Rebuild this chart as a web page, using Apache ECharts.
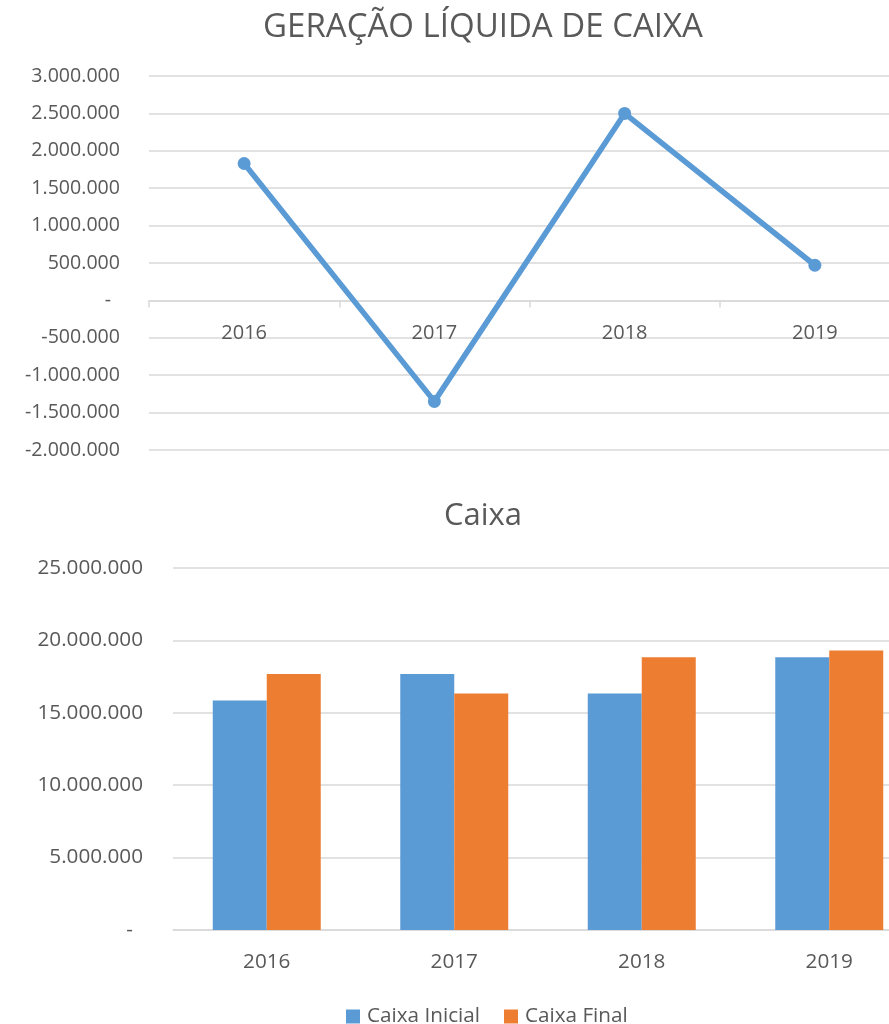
<!DOCTYPE html>
<html>
<head>
<meta charset="utf-8">
<script src="https://cdn.jsdelivr.net/npm/echarts@6/dist/echarts.min.js"></script>
<style>
  html, body { margin: 0; padding: 0; background: #fff; overflow: hidden; }
  /* the drawing is wider than the window; its right edge is cut off */
  #chart { width: 966px; height: 1024px; }
</style>
</head>
<body>
<div id="chart"></div>
<script>
// Years shared by both panels
var anos = ['2016', '2017', '2018', '2019'];
// Net cash generation per year
var geracaoLiquida = [1830000, -1350000, 2500000, 470000];
// Opening and closing cash balances per year
var caixaInicial = [15850000, 17680000, 16330000, 18830000];
var caixaFinal = [17680000, 16330000, 18830000, 19300000];

var FONT = '"Open Sans", sans-serif';
var TEXT = '#595959';
var GRID = '#D9D9D9';
var BLUE = '#5B9BD5';
var ORANGE = '#ED7D31';

// Brazilian-style thousands separator; zero shown as a dash
function fmt(v) {
  if (v === 0) return '{z|-}';
  var neg = v < 0;
  var s = String(Math.abs(Math.round(v))).replace(/\B(?=(\d{3})+(?!\d))/g, '.');
  return (neg ? '-' : '') + s;
}

var chart = echarts.init(document.getElementById('chart'), null, { renderer: 'canvas' });

// top panel geometry: the category axis sits on the zero line
var topGrid = { left: 149, top: 76, right: 56, height: 374 };
var topMin = -2000000, topMax = 3000000;
var zeroOffset = -topGrid.height * (0 - topMin) / (topMax - topMin);

chart.setOption({
  backgroundColor: '#fff',
  animation: false,
  textStyle: { fontFamily: FONT },
  title: [
    {
      text: 'GERAÇÃO LÍQUIDA DE CAIXA',
      left: 478, top: 6, textAlign: 'center',
      textStyle: { fontFamily: FONT, fontSize: 33, fontWeight: 'normal', color: TEXT }
    },
    {
      text: 'Caixa',
      left: 478, top: 496, textAlign: 'center',
      textStyle: { fontFamily: FONT, fontSize: 31, fontWeight: 'normal', color: TEXT }
    }
  ],
  legend: {
    data: ['Caixa Inicial', 'Caixa Final'],
    left: 341, top: 1001,
    icon: 'rect', itemWidth: 14, itemHeight: 14, itemGap: 24,
    textStyle: { fontFamily: FONT, fontSize: 20.7, color: TEXT, padding: [0, 0, 0, 2] }
  },
  grid: [
    topGrid,
    { left: 173, top: 568, right: 43, height: 362 }
  ],
  xAxis: [
    {
      type: 'category', gridIndex: 0, data: anos, boundaryGap: true,
      position: 'bottom', offset: zeroOffset,
      axisLine: { onZero: false, lineStyle: { color: GRID, width: 1.5 } },
      axisTick: { show: true, length: 7, lineStyle: { color: GRID, width: 1.5 } },
      axisLabel: { fontFamily: FONT, fontSize: 20, color: TEXT, margin: 23 },
      splitLine: { show: false }
    },
    {
      type: 'category', gridIndex: 1, data: anos, boundaryGap: true,
      axisLine: { lineStyle: { color: GRID, width: 1.5 } },
      axisTick: { show: false },
      axisLabel: { fontFamily: FONT, fontSize: 20.7, color: TEXT, margin: 22 },
      splitLine: { show: false }
    }
  ],
  yAxis: [
    {
      type: 'value', gridIndex: 0, min: topMin, max: topMax, interval: 500000,
      axisLine: { show: false }, axisTick: { show: false },
      splitLine: { lineStyle: { color: GRID, width: 1.5 } },
      axisLabel: {
        fontFamily: FONT, fontSize: 19.6, color: TEXT, margin: 29,
        formatter: fmt,
        rich: { z: { fontFamily: FONT, fontSize: 19.6, color: TEXT, padding: [0, 9, 0, 0] } }
      }
    },
    {
      type: 'value', gridIndex: 1, min: 0, max: 25000000, interval: 5000000,
      axisLine: { show: false }, axisTick: { show: false },
      splitLine: { lineStyle: { color: GRID, width: 1.5 } },
      axisLabel: {
        fontFamily: FONT, fontSize: 20.7, color: TEXT, margin: 30,
        formatter: fmt,
        rich: { z: { fontFamily: FONT, fontSize: 20.7, color: TEXT, padding: [0, 10, 0, 0] } }
      }
    }
  ],
  series: [
    {
      name: 'Geração Líquida', type: 'line', xAxisIndex: 0, yAxisIndex: 0,
      data: geracaoLiquida,
      symbol: 'circle', symbolSize: 13,
      lineStyle: { color: BLUE, width: 5.5 },
      itemStyle: { color: BLUE }
    },
    {
      name: 'Caixa Inicial', type: 'bar', xAxisIndex: 1, yAxisIndex: 1,
      data: caixaInicial, barWidth: 54, barGap: '0%',
      itemStyle: { color: BLUE }
    },
    {
      name: 'Caixa Final', type: 'bar', xAxisIndex: 1, yAxisIndex: 1,
      data: caixaFinal, barWidth: 54, barGap: '0%',
      itemStyle: { color: ORANGE }
    }
  ]
});
</script>
</body>
</html>
